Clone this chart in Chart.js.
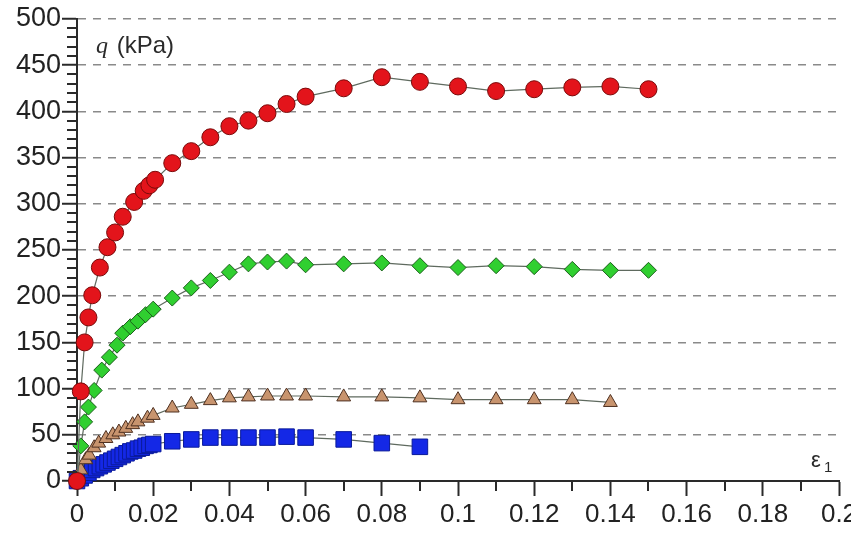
<!DOCTYPE html>
<html>
<head>
<meta charset="utf-8">
<script src="https://cdn.jsdelivr.net/npm/chart.js@4/dist/chart.umd.min.js"></script>
<style>
  html, body { margin: 0; padding: 0; background: #ffffff; overflow: hidden; }
  #wrap { width: 851px; height: 534px; position: relative; }
</style>
</head>
<body>
<div id="wrap"><canvas id="c" width="851" height="534"></canvas></div>
<script>
// ---- data ----
const redStrain = [0, 0.001, 0.002, 0.003, 0.004, 0.006, 0.008, 0.010, 0.012, 0.015, 0.0175, 0.019, 0.0205, 0.025, 0.030, 0.035, 0.040, 0.045, 0.050, 0.055, 0.060, 0.070, 0.080, 0.090, 0.100, 0.110, 0.120, 0.130, 0.140, 0.150];
const redQ      = [0, 97, 150, 177, 201, 231, 253, 269, 286, 302, 314, 320, 326, 344, 357, 372, 384, 390, 398, 408, 416, 425, 437, 432, 427, 422, 424, 426, 427, 424];

const greenStrain = [0, 0.001, 0.002, 0.003, 0.0045, 0.0065, 0.0085, 0.0105, 0.012, 0.014, 0.016, 0.018, 0.020, 0.025, 0.030, 0.035, 0.040, 0.045, 0.050, 0.055, 0.060, 0.070, 0.080, 0.090, 0.100, 0.110, 0.120, 0.130, 0.140, 0.150];
const greenQ      = [0, 38, 64, 80, 98, 120, 134, 147, 160, 167, 173, 180, 186, 198, 209, 217, 226, 235, 237, 238, 234, 235, 236, 233, 231, 233, 232, 229, 228, 228];

const brownStrain = [0, 0.001, 0.0023, 0.0032, 0.0045, 0.0057, 0.0076, 0.0094, 0.011, 0.0128, 0.0146, 0.016, 0.0185, 0.020, 0.025, 0.030, 0.035, 0.040, 0.045, 0.050, 0.055, 0.060, 0.070, 0.080, 0.090, 0.100, 0.110, 0.120, 0.130, 0.140];
const brownQ      = [0, 12, 23, 28, 36, 41, 46, 50, 53, 57, 61, 64, 68, 71, 79, 83, 87, 90, 91, 92, 92, 92, 91, 91, 90, 88, 88, 88, 88, 85];

const blueStrain = [0, 0.001, 0.002, 0.003, 0.004, 0.005, 0.006, 0.007, 0.008, 0.009, 0.010, 0.011, 0.012, 0.013, 0.014, 0.015, 0.016, 0.017, 0.018, 0.019, 0.020, 0.025, 0.030, 0.035, 0.040, 0.045, 0.050, 0.055, 0.060, 0.070, 0.080, 0.090];
const blueQ      = [0, 3, 6, 9, 12, 14, 16, 18, 20, 22, 24, 26, 28, 30, 32, 33, 35, 36, 38, 39, 40, 43, 45, 47, 47, 47, 47, 48, 47, 45, 41, 37];

const xMin = 0, xMax = 0.2, xMajorStep = 0.02, xMinorStep = 0.01;
const yMin = 0, yMax = 500, yMajorStep = 50, yMinorStep = 10;
const yTitle = ['q', ' (kPa)'];
const xTitle = ['ε', '1'];

function pts(xs, ys) { return xs.map((x, i) => ({ x: x, y: ys[i] })); }

const minorTicks = {
  id: 'minorTicks',
  afterDraw(chart) {
    const ctx = chart.ctx, xs = chart.scales.x, ys = chart.scales.y, a = chart.chartArea;
    ctx.save();
    ctx.strokeStyle = '#2a2a2a';
    ctx.lineWidth = 2;
    ctx.beginPath();
    for (let v = yMin + yMinorStep; v < yMax; v += yMinorStep) {
      if (Math.round(v) % yMajorStep === 0) continue;
      const p = Math.round(ys.getPixelForValue(v));
      ctx.moveTo(a.left - 10, p); ctx.lineTo(a.left, p);
    }
    for (let k = 1; k * xMinorStep < xMax - 1e-9; k++) {
      if (k % 2 === 0) continue;
      const p = Math.round(xs.getPixelForValue(k * xMinorStep));
      ctx.moveTo(p, a.bottom); ctx.lineTo(p, a.bottom + 10);
    }
    ctx.stroke();
    // axis titles
    ctx.fillStyle = '#2a2a2a';
    ctx.textBaseline = 'alphabetic';
    ctx.textAlign = 'left';
    ctx.font = 'italic 24px "Liberation Serif"';
    ctx.fillText(yTitle[0], a.left + 19, a.top + 34);
    ctx.font = '24px "Liberation Sans"';
    ctx.fillText(yTitle[1], a.left + 33, a.top + 34);
    ctx.font = '22px "Liberation Sans"';
    ctx.fillText(xTitle[0], a.right - 28, a.bottom - 14);
    ctx.font = '15px "Liberation Sans"';
    ctx.fillText(xTitle[1], a.right - 15, a.bottom - 9);
    ctx.restore();
  }
};

const lineColor = '#5f6a5f';
new Chart(document.getElementById('c'), {
  type: 'scatter',
  data: {
    datasets: [
      { data: pts(redStrain, redQ), showLine: true, clip: false, borderColor: lineColor, borderWidth: 1.2,
        pointStyle: 'circle', pointRadius: 8.5, pointBackgroundColor: '#e3141b', pointBorderColor: '#7a0a0a', pointBorderWidth: 1 },
      { data: pts(greenStrain, greenQ), showLine: true, clip: false, borderColor: lineColor, borderWidth: 1.2,
        pointStyle: 'rectRot', pointRadius: 8, pointBackgroundColor: '#30cf30', pointBorderColor: '#1a5f1a', pointBorderWidth: 1 },
      { data: pts(brownStrain, brownQ), showLine: true, clip: false, borderColor: lineColor, borderWidth: 1.2,
        pointStyle: 'triangle', pointRadius: 8, pointBackgroundColor: '#c8946e', pointBorderColor: '#4e3020', pointBorderWidth: 1 },
      { data: pts(blueStrain, blueQ), showLine: true, clip: false, borderColor: lineColor, borderWidth: 1.2,
        pointStyle: 'rect', pointRadius: 11, pointBackgroundColor: '#1428e6', pointBorderColor: '#0a1a9a', pointBorderWidth: 1 }
    ]
  },
  options: {
    responsive: false,
    animation: false,
    layout: { padding: { left: 0, right: 8, top: 19, bottom: 0 } },
    plugins: { legend: { display: false }, tooltip: { enabled: false } },
    scales: {
      x: {
        type: 'linear', min: xMin, max: xMax,
        afterFit(s) { s.height = 53; s.paddingLeft = 0; s.paddingRight = 0; },
        border: { display: true, color: '#2a2a2a', width: 2 },
        grid: { drawOnChartArea: false, drawTicks: true, tickLength: 15, tickWidth: 2, tickColor: '#2a2a2a', tickBorderDash: [] },
        ticks: {
          stepSize: xMajorStep, autoSkip: false, maxRotation: 0, padding: 3,
          color: '#222', font: { family: 'Liberation Sans', size: 26 },
          callback: v => { const r = Math.round(v * 100) / 100; return r === 0 ? '0' : String(r); }
        }
      },
      y: {
        type: 'linear', min: yMin, max: yMax,
        afterFit(s) { s.width = 77; },
        border: { display: true, color: '#2a2a2a', width: 2, dash: [8, 7] },
        grid: {
          color: c => (c.tick && c.tick.value !== 0) ? '#8a8a8a' : 'rgba(0,0,0,0)',
          lineWidth: 1.5, drawTicks: true, tickLength: 15, tickWidth: 2, tickColor: '#2a2a2a', tickBorderDash: []
        },
        ticks: {
          stepSize: yMajorStep, padding: 1,
          color: '#222', font: { family: 'Liberation Sans', size: 27 },
          callback: v => String(v)
        }
      }
    }
  },
  plugins: [minorTicks]
});
</script>
</body>
</html>
